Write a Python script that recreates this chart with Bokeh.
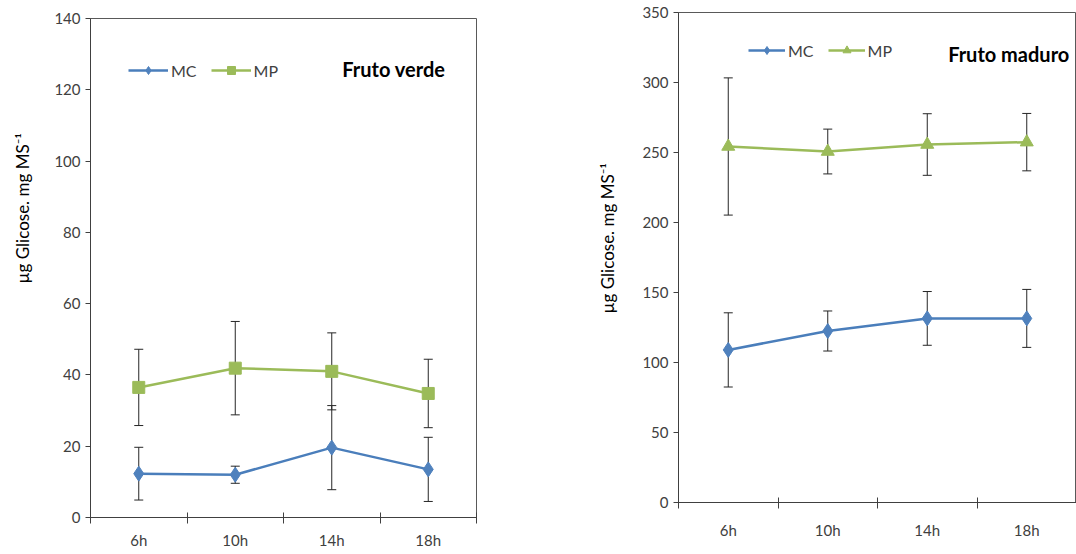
import math
from bokeh.plotting import figure
from bokeh.models import (ColumnDataSource, Whisker, TeeHead, Range1d, FixedTicker,
                          Legend, LegendItem, Label)
from bokeh.layouts import row
from bokeh.embed import file_html
from bokeh.resources import INLINE
from bokeh.core.properties import value

# ---------------- data ----------------
categories = ["6h", "10h", "14h", "18h"]

# Fruto verde (green fruit)
verde_mc = [12.3, 12.0, 19.6, 13.5]
verde_mc_err = [7.4, 2.4, 11.8, 9.0]
verde_mp = [36.5, 41.9, 41.0, 34.8]
verde_mp_err = [10.7, 13.1, 10.8, 9.6]

# Fruto maduro (ripe fruit)
maduro_mc = [109.0, 122.5, 131.5, 131.5]
maduro_mc_err = [26.5, 14.3, 19.2, 20.7]
maduro_mp = [254.3, 250.7, 255.7, 257.4]
maduro_mp_err = [49.0, 16.0, 22.0, 20.5]

ylabel = "µg Glicose. mg MS⁻¹"

FONT = "Lato"
BLUE_LINE = "#4A7EBB"
BLUE_FILL = "#4F81BD"
GREEN = "#9BBB59"
AX = "#404040"
H = 552


def label_strip(width, cx, start_y):
    """Narrow figure holding the rotated y-axis label (pixel coordinates)."""
    f = figure(width=width, height=H, output_backend="svg", toolbar_location=None,
               x_range=Range1d(0, width), y_range=Range1d(0, H),
               x_axis_type=None, y_axis_type=None, min_border=0)
    f.frame_align = False
    f.grid.visible = False
    f.outline_line_color = None
    f.text(x=[cx], y=[H - start_y], text=[ylabel], angle=math.pi / 2,
           text_font=value(FONT), text_font_size="17px", text_color="black",
           text_align="left", text_baseline="middle")
    return f


def make_chart(mc, mc_err, mp, mp_err, ymax, ystep, mp_marker, mp_size, title_text,
               title_xy, width, borders, legend_loc, xlab_standoff, glyph_w):
    bl, br, bt, bb = borders
    p = figure(width=width, height=H, output_backend="svg", toolbar_location=None,
               min_border_left=bl, min_border_right=br, min_border_top=bt,
               min_border_bottom=bb, x_range=Range1d(0, len(categories)),
               y_range=Range1d(0, ymax))
    p.frame_align = False
    p.grid.visible = False
    p.outline_line_color = "#595959"
    p.outline_line_width = 1
    p.background_fill_color = "white"
    p.border_fill_color = "white"

    xs = [i + 0.5 for i in range(len(categories))]

    # x axis: labels at centres, ticks at category boundaries
    p.xaxis.ticker = FixedTicker(ticks=xs, minor_ticks=list(range(len(categories) + 1)))
    p.xaxis.major_label_overrides = {x: c for x, c in zip(xs, categories)}
    p.xaxis.major_tick_in = 0
    p.xaxis.major_tick_out = 0
    p.xaxis.minor_tick_in = 5
    p.xaxis.minor_tick_out = 6
    p.xaxis.minor_tick_line_color = AX
    p.xaxis.major_label_standoff = xlab_standoff

    # y axis
    p.yaxis.ticker = FixedTicker(ticks=list(range(0, ymax + 1, ystep)), minor_ticks=[])
    p.yaxis.major_tick_in = 0
    p.yaxis.major_tick_out = 5
    p.yaxis.major_label_standoff = 5

    for ax in (p.xaxis, p.yaxis):
        ax.axis_line_color = AX
        ax.major_tick_line_color = AX
        ax.major_label_text_font = FONT
        ax.major_label_text_font_size = "15px"
        ax.major_label_text_color = AX

    src_mc = ColumnDataSource(dict(x=xs, y=mc,
                                   lo=[v - e for v, e in zip(mc, mc_err)],
                                   hi=[v + e for v, e in zip(mc, mc_err)]))
    src_mp = ColumnDataSource(dict(x=xs, y=mp,
                                   lo=[v - e for v, e in zip(mp, mp_err)],
                                   hi=[v + e for v, e in zip(mp, mp_err)]))

    for src in (src_mc, src_mp):
        w = Whisker(base="x", upper="hi", lower="lo", source=src,
                    line_color="#262626", line_width=1,
                    upper_head=TeeHead(size=9, line_color="#262626", line_width=1),
                    lower_head=TeeHead(size=9, line_color="#262626", line_width=1))
        p.add_layout(w)

    l1 = p.line("x", "y", source=src_mc, line_color=BLUE_LINE, line_width=2.5)
    s1 = p.scatter("x", "y", source=src_mc, marker="diamond", size=15,
                   fill_color=BLUE_FILL, line_color=BLUE_FILL)
    l2 = p.line("x", "y", source=src_mp, line_color=GREEN, line_width=2.5)
    s2 = p.scatter("x", "y", source=src_mp, marker=mp_marker, size=mp_size,
                   fill_color=GREEN, line_color=GREEN)

    legend = Legend(items=[LegendItem(label="MC", renderers=[l1, s1]),
                           LegendItem(label="MP", renderers=[l2, s2])],
                    orientation="horizontal", location=legend_loc,
                    background_fill_alpha=0, border_line_alpha=0,
                    padding=0, margin=0, spacing=14, label_standoff=3,
                    glyph_width=glyph_w, glyph_height=20,
                    label_text_font=FONT, label_text_font_size="16px",
                    label_text_color=AX)
    p.add_layout(legend)

    p.add_layout(Label(x=title_xy[0], y=title_xy[1], text=title_text,
                       text_font=FONT, text_font_size="20px",
                       text_font_style="bold", text_color="black",
                       text_baseline="middle", text_align="left"))
    return p


lab1 = label_strip(36, 22, 283)
p1 = make_chart(verde_mc, verde_mc_err, verde_mp, verde_mp_err, 140, 20, "square", 12,
                "Fruto verde", (2.61, 125.7), 450, (54, 10, 18, 35),
                (38, 437), 7, 40)
lab2 = label_strip(138, 121, 313)
p2 = make_chart(maduro_mc, maduro_mc_err, maduro_mp, maduro_mp_err, 350, 50, "triangle", 13,
                "Fruto maduro", (2.71, 320.7), 452, (54, 0, 12, 50),
                (70, 442), 12, 37)

layout = row(lab1, p1, lab2, p2)
open("out.html", "w").write(file_html(layout, INLINE))
